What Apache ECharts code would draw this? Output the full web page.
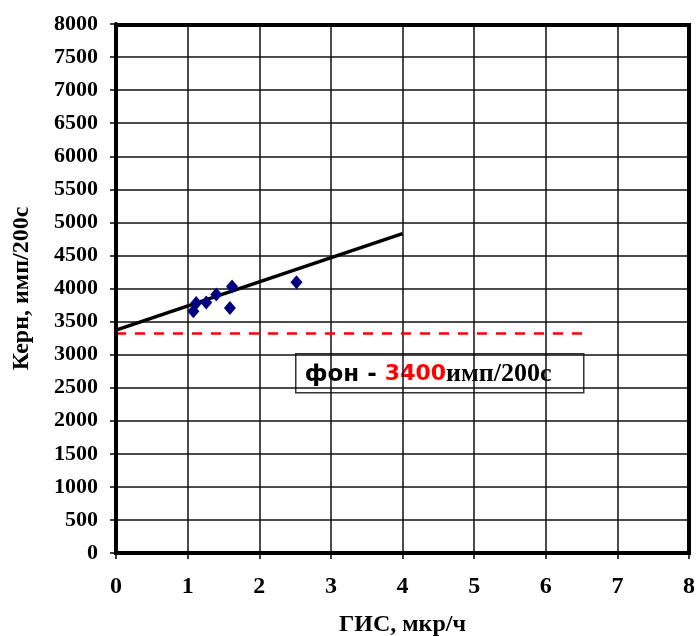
<!DOCTYPE html>
<html>
<head>
<meta charset="utf-8">
<script src="https://cdn.jsdelivr.net/npm/echarts@6/dist/echarts.min.js"></script>
<style>
  html, body { margin: 0; padding: 0; background: #fff; }
  #chart { width: 697px; height: 636px; }
</style>
</head>
<body>
<div id="chart"></div>
<script>
// measured points: ГИС (мкр/ч) vs керн (имп/200с)
const gisValues = [1.08, 1.12, 1.26, 1.40, 1.62, 1.59, 2.52];
const kernValues = [3655, 3780, 3790, 3910, 4030, 3705, 4095];
// trend line end points
const trendX = [0, 4];
const trendY = [3370, 4830];
// background level line
const bgX = [0, 6.6];
const bgY = [3320, 3320];
const xTicks = [0, 1, 2, 3, 4, 5, 6, 7, 8];
const yTicks = [0, 500, 1000, 1500, 2000, 2500, 3000, 3500, 4000, 4500, 5000, 5500, 6000, 6500, 7000, 7500, 8000];

const serif = '"Liberation Serif", "DejaVu Serif", serif';

let myChart = echarts.init(document.getElementById('chart'));

let options = {
    animation: false,
    backgroundColor: '#fff',
    grid: { left: 116, right: 8, top: 24, bottom: 83, show: false, containLabel: false, outerBoundsMode: 'none' },
    xAxis: {
        type: 'value',
        min: xTicks[0], max: xTicks[xTicks.length - 1], interval: 1,
        name: 'ГИС, мкр/ч',
        nameLocation: 'middle',
        nameGap: 60,
        nameTextStyle: { fontFamily: serif, fontWeight: 'bold', fontSize: 24, color: '#000' },
        axisLine: { show: true, lineStyle: { color: '#000', width: 4 } },
        axisTick: { show: true, length: 6, lineStyle: { color: '#000', width: 1.5 } },
        axisLabel: { fontFamily: serif, fontWeight: 'bold', fontSize: 24, color: '#000', margin: 22,
                     formatter: v => String(v) },
        splitLine: { show: true, lineStyle: { color: '#111', width: 1.5 } }
    },
    yAxis: {
        type: 'value',
        min: yTicks[0], max: yTicks[yTicks.length - 1], interval: 500,
        name: 'Керн, имп/200с',
        nameLocation: 'middle',
        nameGap: 82,
        nameTextStyle: { fontFamily: serif, fontWeight: 'bold', fontSize: 24, color: '#000' },
        axisLine: { show: true, lineStyle: { color: '#000', width: 4 } },
        axisTick: { show: true, length: 6, lineStyle: { color: '#000', width: 1.5 } },
        axisLabel: { fontFamily: serif, fontWeight: 'bold', fontSize: 22, color: '#000', margin: 18,
                     formatter: v => String(v) },
        splitLine: { show: true, lineStyle: { color: '#111', width: 1.5 } }
    },
    graphic: [
        // outer frame (top and right edges)
        { type: 'rect', z: 50, silent: true,
          shape: { x: 116, y: 25, width: 573, height: 528 },
          style: { fill: 'none', stroke: '#000', lineWidth: 4 } },
        // text box
        { type: 'group', left: 295, top: 353, z: 60, children: [
            { type: 'rect', shape: { x: 0, y: 0, width: 288, height: 39 },
              style: { fill: '#fff', stroke: '#333', lineWidth: 1.5 } },
            { type: 'text', x: 9, y: 21,
              style: {
                  text: '{a|фон - }{b|3400}{c|имп/200с}',
                  verticalAlign: 'middle',
                  rich: {
                      a: { fontFamily: '"DejaVu Sans", sans-serif', fontWeight: 'bold', fontSize: 23, fill: '#000' },
                      b: { fontFamily: '"DejaVu Sans", sans-serif', fontWeight: 'bold', fontSize: 22, fill: '#ff0000' },
                      c: { fontFamily: serif, fontWeight: 'bold', fontSize: 26, fill: '#000' }
                  }
              } }
        ] }
    ],
    series: [
        {
            type: 'line',
            data: bgX.map((x, i) => [x, bgY[i]]),
            symbol: 'none',
            lineStyle: { color: '#ff0000', width: 2.5, type: [10, 9] },
            z: 3
        },
        {
            type: 'line',
            data: trendX.map((x, i) => [x, trendY[i]]),
            symbol: 'none',
            lineStyle: { color: '#000', width: 3.5 },
            z: 4
        },
        {
            type: 'scatter',
            data: gisValues.map((x, i) => [x, kernValues[i]]),
            symbol: 'diamond',
            symbolSize: [12, 14],
            itemStyle: { color: '#000080', opacity: 1 },
            z: 5
        }
    ]
};

myChart.setOption(options);
</script>
</body>
</html>
